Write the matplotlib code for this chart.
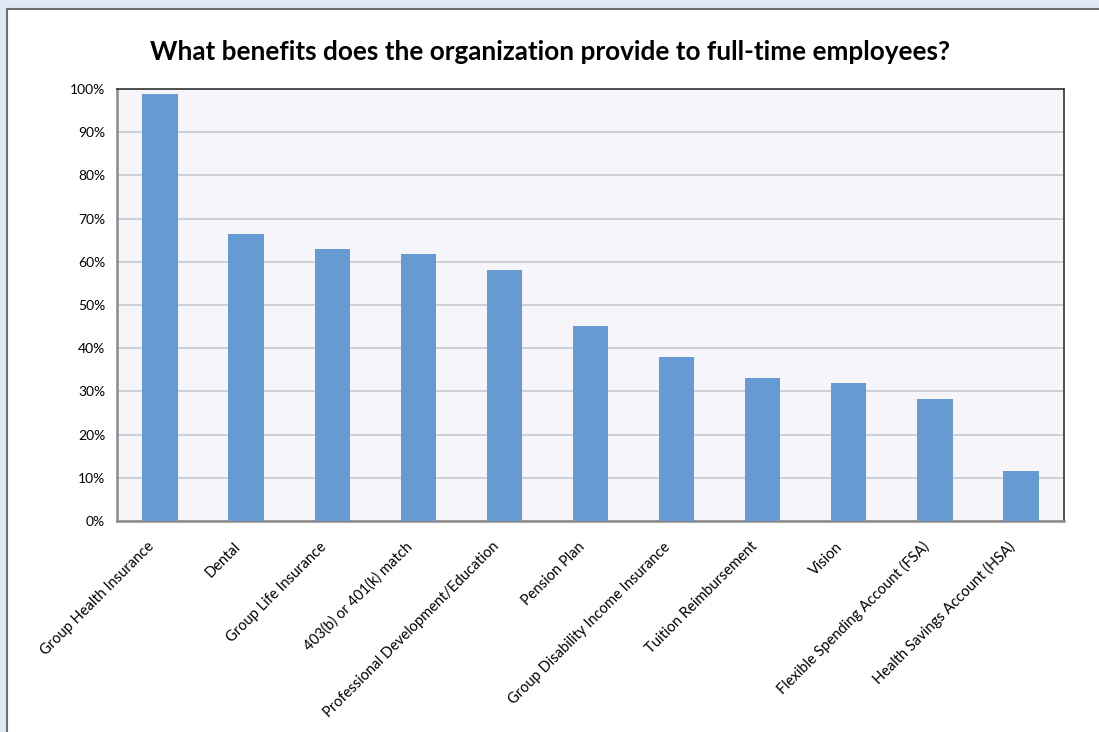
import matplotlib
matplotlib.use("Agg")
from matplotlib import pyplot as plt
from matplotlib.patches import Rectangle
from matplotlib.ticker import PercentFormatter
from matplotlib.transforms import ScaledTranslation

categories = ["Group Health Insurance", "Dental", "Group Life Insurance",
              "403(b) or 401(k) match", "Professional Development/Education",
              "Pension Plan", "Group Disability Income Insurance",
              "Tuition Reimbursement", "Vision",
              "Flexible Spending Account (FSA)", "Health Savings Account (HSA)"]
values = [98.8, 66.4, 63.0, 61.8, 58.1, 45.1, 38.0, 33.1, 31.9, 28.2, 11.6]

plt.rcParams['font.family'] = ['Lato', 'DejaVu Sans']

fig = plt.figure(figsize=(10.99, 7.32), dpi=100)
fig.patch.set_facecolor("#dfe7f2")

# white chart area with border
fig.patches.append(Rectangle((7 / 1099, -0.1), 1.2, 1 - 9 / 732 + 0.1,
                             transform=fig.transFigure, facecolor="white",
                             edgecolor="#6e6e6e", linewidth=1.5, zorder=-10))

ax = fig.add_axes([117 / 1099, 1 - 521 / 732, (1064 - 117) / 1099, (521 - 89) / 732])
ax.set_facecolor("#f5f5fa")

x = range(len(categories))
ax.bar(x, values, width=0.41, color="#659ad2", zorder=3)

ax.set_xlim(-0.5, len(categories) - 0.5)
ax.set_ylim(0, 100)
ax.set_yticks(range(0, 101, 10))
ax.yaxis.set_major_formatter(PercentFormatter(decimals=0))
ax.grid(axis="y", color="#c8c8d0", linewidth=1.2, zorder=0)
ax.tick_params(axis="y", length=0, labelsize=10, pad=8.5)
ax.tick_params(axis="x", length=0, pad=17)

ax.set_xticks(list(x))
ax.set_xticklabels(categories, rotation=45, ha="right", va="center",
                   rotation_mode="anchor", fontsize=10.5)
# shift labels a bit left, like the original
shift = ScaledTranslation(-8 / 100, 0, fig.dpi_scale_trans)
for lab in ax.get_xticklabels():
    lab.set_transform(lab.get_transform() + shift)

for side in ["top", "right"]:
    ax.spines[side].set_color("#333333")
    ax.spines[side].set_linewidth(1.2)
for side in ["left", "bottom"]:
    ax.spines[side].set_color("#8a8a8a")
    ax.spines[side].set_linewidth(1.8)

fig.text(550 / 1099, 1 - 52 / 732,
         "What benefits does the organization provide to full-time employees?",
         ha="center", va="center", fontsize=18.8, fontweight="bold")

fig.savefig("out.png", dpi=100, facecolor=fig.get_facecolor())
